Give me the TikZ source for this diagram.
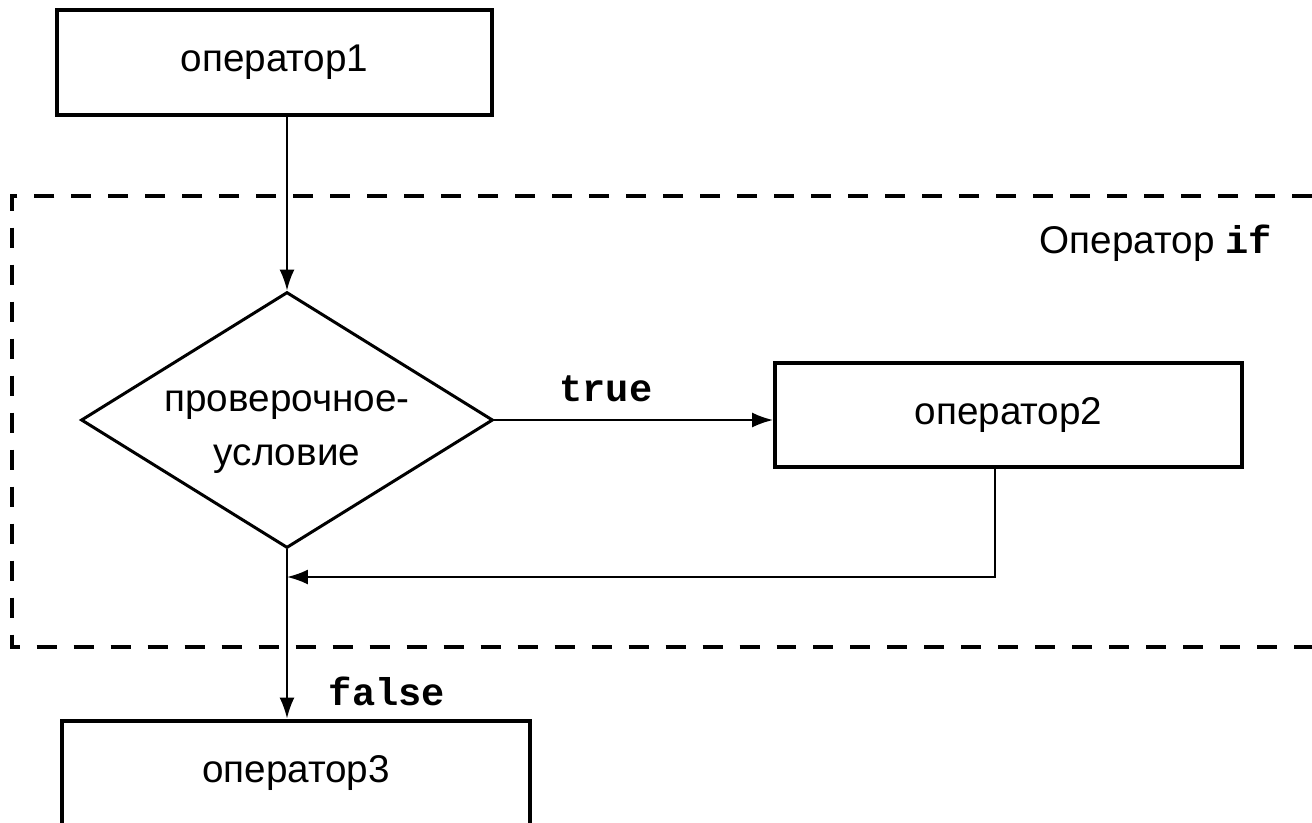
\documentclass[tikz,border=0pt]{standalone}
\usepackage{fontspec}
\setmainfont{Liberation Sans}
\setmonofont{Liberation Mono}
\usetikzlibrary{shapes.geometric,arrows.meta}

\begin{document}
\begin{tikzpicture}[x=0.02cm, y=-0.02cm,
        box/.style={draw, line width=0.8mm, minimum height=2.1cm, inner sep=0pt},
        cond/.style={draw, diamond, line width=0.6mm, aspect=1.61, inner sep=0pt, minimum width=8.24cm, minimum height=5.12cm},
        conn/.style={line width=0.4mm, -{Latex[length=4.2mm,width=3mm]}},
        frame/.style={line width=0.8mm, dash pattern=on 4mm off 3.4mm},
        every node/.style={font=\fontsize{22}{31}\selectfont}]
                \useasboundingbox (0,0) rectangle (1312,822);
                \draw[frame] (1312,196) -- (12,196) -- (12,647) -- (1312,647);
                \node at (1278,243) [anchor=east] {Оператор \texttt{\bfseries if}};
                \node[box, minimum width=8.7cm] (op1) at (274.5,62.5) {оператор1};
                \node[cond, label={[align=center, yshift=-0.24cm]center:проверочное-\\условие}] (test) at (287,420) {};
                \node[box, minimum width=9.34cm] (op2) at (1008.5,415) {оператор2};
                \node[box, minimum width=9.36cm] (op3) at (296,773) {оператор3};
                \coordinate (join) at (287,577);
                \draw[conn] (op1.south -| test.north) -- (test.north);
                \draw[conn] (test.east) -- (test.east -| op2.west) node[pos=0.4, above, yshift=0.22cm] {\texttt{\bfseries true}};
                \draw[conn] ([xshift=-0.27cm]op2.south) |- (join);
                \draw[conn] (test.south) -- (test.south |- op3.north) node[pos=0.84, right, xshift=0.7cm] {\texttt{\bfseries false}};
            \end{tikzpicture}
\end{document}
